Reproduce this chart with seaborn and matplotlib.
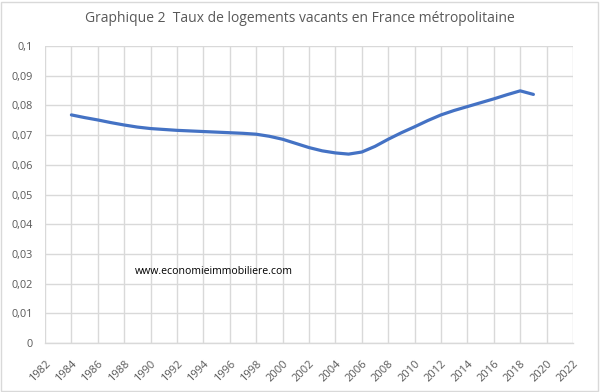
import matplotlib
matplotlib.use("Agg")
import matplotlib.pyplot as plt
import seaborn as sns
import pandas as pd
from matplotlib.patches import Rectangle

years = list(range(1984, 2020))
taux = [0.0768, 0.0759, 0.0751, 0.0742, 0.0734, 0.0727, 0.0722, 0.0719, 0.0716, 0.0714,
        0.0712, 0.0710, 0.0708, 0.0706, 0.0703, 0.0696, 0.0686, 0.0672, 0.0658, 0.0647,
        0.0640, 0.0636, 0.0643, 0.0662, 0.0686, 0.0708, 0.0728, 0.0749, 0.0768, 0.0783,
        0.0796, 0.0809, 0.0822, 0.0836, 0.0849, 0.0837]
x_ticks = list(range(1982, 2023, 2))
y_ticks = [i / 100 for i in range(0, 11)]
y_labels = ["0"] + [f"{v:g}".replace(".", ",") for v in y_ticks[1:]]
title = "Graphique 2  Taux de logements vacants en France métropolitaine"
watermark = "www.economieimmobiliere.com"

df = pd.DataFrame({"annee": years, "taux": taux})

sns.set_theme(style="white")
plt.rcParams["font.family"] = ["Open Sans", "DejaVu Sans"]

fig = plt.figure(figsize=(6, 3.92), dpi=100)
ax = fig.add_axes([45 / 600, 1 - 343 / 392, (573 - 45) / 600, (343 - 46) / 392])

sns.lineplot(data=df, x="annee", y="taux", ax=ax, color="#4472C4", linewidth=2.3)

ax.set_xlim(1982, 2022)
ax.set_ylim(0, 0.1)
ax.set_xticks(x_ticks)
ax.set_xticklabels([str(t) for t in x_ticks], rotation=45, ha="right", va="top",
                   rotation_mode="anchor", fontsize=8, color="#595959")
ax.set_yticks(y_ticks)
ax.set_yticklabels(y_labels, fontsize=7.8, color="#595959")
ax.tick_params(axis="x", length=0, pad=11)
ax.tick_params(axis="y", length=0, pad=9)
ax.grid(True, color="#d9d9d9", linewidth=1)
ax.set_axisbelow(True)
for s in ["top", "right", "left"]:
    ax.spines[s].set_visible(False)
ax.spines["bottom"].set_color("#d9d9d9")
ax.spines["bottom"].set_linewidth(1)
ax.set_xlabel("")
ax.set_ylabel("")

fig.text(0.5, 1 - 19 / 392, title, ha="center", va="center", fontsize=10, color="#595959")
fig.text(135 / 600, 1 - 271 / 392, watermark, ha="left", va="center", fontsize=7.6, color="#000000")

fig.patches.append(Rectangle((1 / 600, 1 / 392), 597 / 600, 389 / 392, transform=fig.transFigure,
                             fill=False, edgecolor="#d9d9d9", linewidth=1))

fig.savefig("out.png", dpi=100)
